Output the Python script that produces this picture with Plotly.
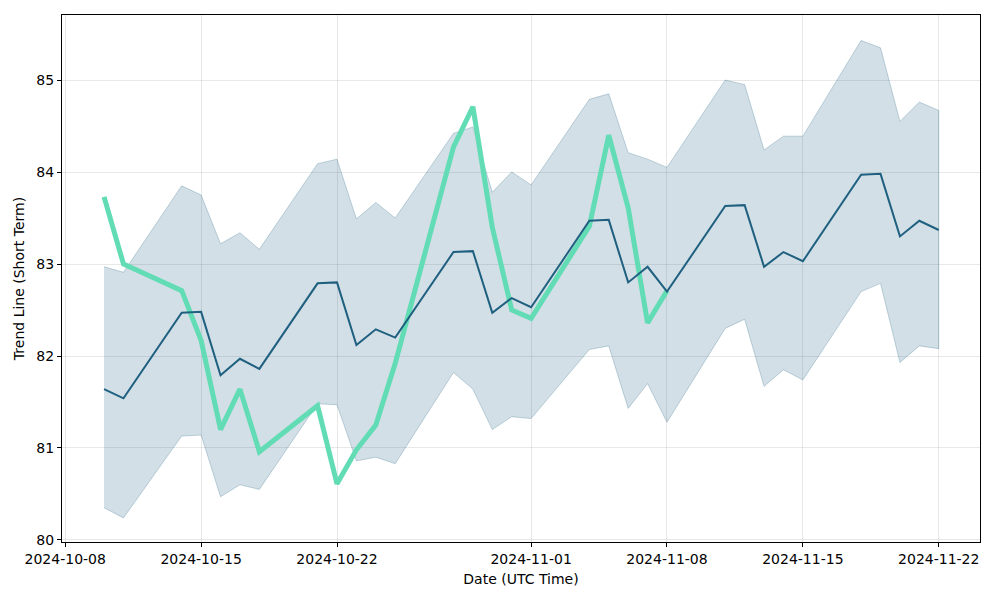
import plotly.graph_objects as go

# Даты (торговые дни)
dates = ['2024-10-10', '2024-10-11', '2024-10-14', '2024-10-15', '2024-10-16', '2024-10-17',
         '2024-10-18', '2024-10-21', '2024-10-22', '2024-10-23', '2024-10-24', '2024-10-25',
         '2024-10-28', '2024-10-29', '2024-10-30', '2024-10-31', '2024-11-01', '2024-11-04',
         '2024-11-05', '2024-11-06', '2024-11-07', '2024-11-08', '2024-11-11', '2024-11-12',
         '2024-11-13', '2024-11-14', '2024-11-15', '2024-11-18', '2024-11-19', '2024-11-20',
         '2024-11-21', '2024-11-22']

trend = [81.64, 81.54, 82.47, 82.48, 81.79, 81.97, 81.86, 82.79, 82.80, 82.12, 82.29, 82.20,
         83.13, 83.14, 82.47, 82.63, 82.53, 83.47, 83.48, 82.80, 82.97, 82.70, 83.63, 83.64,
         82.97, 83.13, 83.03, 83.97, 83.98, 83.30, 83.47, 83.37]

upper = [82.97, 82.91, 83.85, 83.75, 83.22, 83.34, 83.16, 84.09, 84.14, 83.49, 83.67, 83.50,
         84.42, 84.49, 83.78, 84.00, 83.86, 84.79, 84.85, 84.21, 84.14, 84.05, 85.00, 84.95,
         84.24, 84.39, 84.39, 85.43, 85.35, 84.55, 84.76, 84.67]

lower = [80.35, 80.24, 81.13, 81.14, 80.47, 80.60, 80.55, 81.48, 81.47, 80.86, 80.90, 80.83,
         81.82, 81.64, 81.20, 81.34, 81.32, 82.07, 82.11, 81.43, 81.70, 81.28, 82.30, 82.40,
         81.67, 81.85, 81.74, 82.70, 82.79, 81.93, 82.11, 82.08]

# Фактическая цена (только до 2024-11-08)
price_dates = dates[:22]
price = [83.73, 83.00, 82.71, 82.17, 81.20, 81.64, 80.96, 81.46, 80.61, 80.98, 81.25, 81.92,
         84.27, 84.71, 83.40, 82.50, 82.41, 83.41, 84.40, 83.61, 82.36, 82.71]

fig = go.Figure()

# Полоса доверия
fig.add_trace(go.Scatter(
    x=dates + dates[::-1], y=upper + lower[::-1],
    fill='toself', fillcolor='rgba(31,96,128,0.2)',
    line=dict(color='rgba(31,96,128,0.25)', width=1),
    mode='lines', hoverinfo='skip', showlegend=False
))

fig.add_trace(go.Scatter(x=price_dates, y=price, mode='lines',
                         line=dict(color='#62dcb4', width=5), showlegend=False))

fig.add_trace(go.Scatter(x=dates, y=trend, mode='lines',
                         line=dict(color='#1f6080', width=2), showlegend=False))

axis_common = dict(
    showline=True, linecolor='black', linewidth=1, mirror=True,
    ticks='outside', ticklen=4, tickcolor='black',
    showgrid=True, gridcolor='rgba(0,0,0,0.09)', gridwidth=1,
    zeroline=False, tickfont=dict(size=14, color='black'),
    title_font=dict(size=14, color='black'),
)

fig.update_xaxes(
    title_text='Date (UTC Time)', title_standoff=8,
    range=['2024-10-07 20:00', '2024-11-24 03:00'],
    tickvals=['2024-10-08', '2024-10-15', '2024-10-22', '2024-11-01',
              '2024-11-08', '2024-11-15', '2024-11-22'],
    tickformat='%Y-%m-%d',
    **axis_common
)
fig.update_yaxes(
    title_text='Trend Line (Short Term)', title_standoff=8,
    range=[79.978, 85.707],
    tickvals=[80, 81, 82, 83, 84, 85],
    **axis_common
)

fig.update_layout(
    width=1000, height=600,
    margin=dict(l=54, r=28, t=7, b=66),
    plot_bgcolor='white', paper_bgcolor='white',
    font=dict(family='DejaVu Sans', color='black'),
    showlegend=False,
)

fig.write_html('out.html')
